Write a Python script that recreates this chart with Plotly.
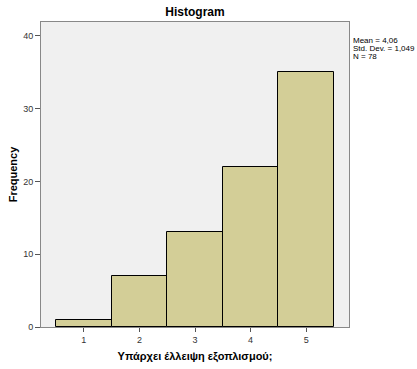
import plotly.graph_objects as go

categories = [1, 2, 3, 4, 5]
frequency = [1, 7, 13, 22, 35]
y_ticks = [0, 10, 20, 30, 40]
stats_lines = ["Mean = 4,06", "Std. Dev. = 1,049", "N = 78"]

fig = go.Figure()
fig.add_trace(go.Bar(
    x=categories, y=frequency, width=1,
    marker=dict(color="#D3CE97", line=dict(color="#000000", width=1)),
))

fig.update_layout(
    width=417, height=369,
    margin=dict(l=41, r=68, t=22, b=42, autoexpand=False),
    paper_bgcolor="white", plot_bgcolor="#F0F0F0",
    font=dict(family="Liberation Sans, Arial", size=9, color="#333333"),
    showlegend=False, bargap=0,
    title=dict(text="<b>Histogram</b>", x=(41 + 349) / 2 / 417, xanchor="center",
               y=1 - 12 / 369, yanchor="middle",
               font=dict(size=12, color="#000000"), automargin=False),
)
fig.update_xaxes(
    range=[0.23, 5.77], tickvals=categories, ticks="outside", ticklen=4,
    tickcolor="#555555", showgrid=False, zeroline=False, automargin=False,
    showline=True, linecolor="#888888", linewidth=1, mirror=True,
    title=dict(text="<b>Υπάρχει έλλειψη εξοπλισμού;</b>", font=dict(size=11, color="#000000"), standoff=8),
)
fig.update_yaxes(
    range=[0, 41.9], tickvals=y_ticks, ticks="outside", ticklen=5,
    tickcolor="#555555", showgrid=False, zeroline=False, automargin=False,
    showline=True, linecolor="#888888", linewidth=1, mirror=True,
    title=dict(text="<b>Frequency</b>", font=dict(size=11, color="#000000"), standoff=3),
)
for i, line in enumerate(stats_lines):
    fig.add_annotation(
        text=line, xref="paper", yref="paper", x=1.008, y=1 - (18.5 + 8 * i) / 305,
        xanchor="left", yanchor="middle", showarrow=False, align="left",
        font=dict(size=8, color="#000000"),
    )
fig.write_html(
    "out.html",
    config={"displayModeBar": False},
    post_script="document.body.style.margin='0';document.body.style.padding='0';document.body.style.overflow='hidden';",
)
